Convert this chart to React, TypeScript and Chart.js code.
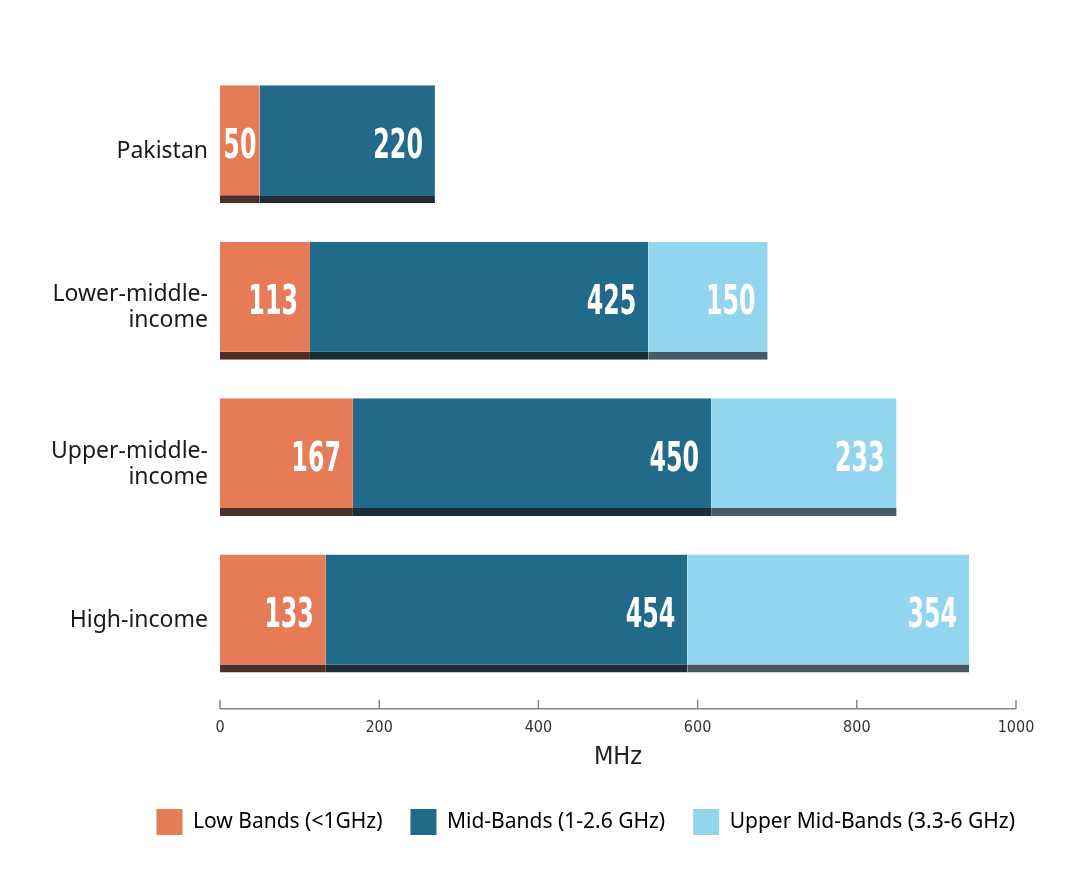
import { useEffect, useRef } from 'react'
import { Chart, registerables } from 'chart.js'

Chart.register(...registerables)

const categories: (string | string[])[] = [
  'Pakistan',
  ['Lower-middle-', 'income'],
  ['Upper-middle-', 'income'],
  'High-income',
]
const lowBands = [50, 113, 167, 133]
const midBands = [220, 425, 450, 454]
const upperMidBands = [0, 150, 233, 354]
const xTicks = [0, 200, 400, 600, 800, 1000]

const seriesNames = ['Low Bands (<1GHz)', 'Mid-Bands (1-2.6 GHz)', 'Upper Mid-Bands (3.3-6 GHz)']
const fills = ['#e67b58', '#216a89', '#93d4ee']
const strips = ['#4d2f29', '#1e2c36', '#455a65']

const narrowFont = '"DejaVu Sans Condensed", sans-serif'
const textFont = '"Noto Sans", sans-serif'
const squeeze = 0.66

// white numbers at the right end of each segment, squeezed to look condensed
const valueLabels = {
  id: 'valueLabels',
  afterDatasetsDraw(chart: Chart) {
    const ctx = chart.ctx
    chart.data.datasets.forEach((ds, i) => {
      chart.getDatasetMeta(i).data.forEach((el: any, j) => {
        const v = ds.data[j] as number
        if (!v) return
        ctx.save()
        ctx.fillStyle = '#ffffff'
        ctx.font = `bold 40px ${narrowFont}`
        ctx.textAlign = 'right'
        ctx.textBaseline = 'middle'
        const w = ctx.measureText(String(v)).width * squeeze
        let right = el.x - 12
        if (right - w < el.base + 4) right = (el.base + el.x) / 2 + w / 2
        ctx.translate(right, el.y + 3)
        ctx.scale(squeeze, 1)
        ctx.fillText(String(v), 0, 0)
        ctx.restore()
      })
    })
  },
}

// axis line under upward tick marks
const axisLine = {
  id: 'axisLine',
  afterDraw(chart: Chart) {
    const x = chart.scales.x
    const ctx = chart.ctx
    const y0 = x.top + 17
    ctx.save()
    ctx.strokeStyle = '#888'
    ctx.lineWidth = 1.5
    ctx.beginPath()
    ctx.moveTo(x.left, y0)
    ctx.lineTo(x.right, y0)
    xTicks.forEach((t) => {
      const px = x.getPixelForValue(t)
      ctx.moveTo(px, y0)
      ctx.lineTo(px, y0 - 9)
    })
    ctx.stroke()
    ctx.restore()
  },
}

// nudge the legend row to the right so it ends under the axis end
const legendShift = {
  id: 'legendShift',
  afterLayout(chart: Chart) {
    const lg: any = chart.legend
    if (!lg) return
    lg.left += 27
    lg.right += 27
  },
}

export default function App() {
  const canvasRef = useRef<HTMLCanvasElement | null>(null)
  const chartRef = useRef<Chart | null>(null)

  useEffect(() => {
    const ctx = canvasRef.current?.getContext('2d')
    if (!ctx) return

    const values = [lowBands, midBands, upperMidBands]

    chartRef.current = new Chart(ctx, {
      type: 'bar',
      data: {
        labels: categories,
        datasets: values.map((data, i) => ({
          label: seriesNames[i],
          data,
          backgroundColor: fills[i],
          borderColor: strips[i],
          borderWidth: { top: 0, right: 0, bottom: 8, left: 0 },
          borderSkipped: false,
          categoryPercentage: 1,
          barPercentage: 0.754,
        })),
      },
      options: {
        indexAxis: 'y',
        animation: false,
        responsive: true,
        maintainAspectRatio: false,
        layout: { padding: { top: 66, right: 65, bottom: 49, left: 8 } },
        plugins: {
          legend: {
            position: 'bottom',
            align: 'end',
            labels: {
              boxWidth: 26,
              boxHeight: 26,
              padding: 28,
              color: '#222',
              font: { family: textFont, size: 21 },
              generateLabels: () =>
                seriesNames.map((n, i) => ({
                  text: n,
                  fillStyle: fills[i],
                  strokeStyle: fills[i],
                  lineWidth: 0,
                  datasetIndex: i,
                })),
            },
          },
          tooltip: { enabled: false },
        },
        scales: {
          x: {
            stacked: true,
            min: 0,
            max: 1000,
            afterBuildTicks: (scale: any) => {
              scale.ticks = xTicks.map((v) => ({ value: v }))
            },
            grid: { display: false, drawTicks: true, tickLength: 26 },
            border: { display: false },
            ticks: {
              padding: 0,
              color: '#333',
              font: { family: narrowFont, size: 16 },
              maxRotation: 0,
              callback: (v: any) => String(v),
            },
            title: {
              display: true,
              text: 'MHz',
              color: '#222',
              font: { family: narrowFont, size: 25 },
              padding: { top: 5, bottom: 9 },
            },
          },
          y: {
            stacked: true,
            grid: { display: false, drawTicks: false },
            border: { display: false },
            afterFit: (scale: any) => {
              scale.width = 212
            },
            ticks: {
              padding: 12,
              labelOffset: 7,
              color: '#1a1a1a',
              font: { family: textFont, size: 23, lineHeight: 1.13 },
            },
          },
        },
      },
      plugins: [valueLabels, axisLine, legendShift],
    })

    return () => {
      chartRef.current?.destroy()
      chartRef.current = null
    }
  }, [])

  return (
    <div style={{ position: 'fixed', left: 0, top: 0, width: 1081, height: 894, background: '#fff' }}>
      <canvas ref={canvasRef} />
    </div>
  )
}
